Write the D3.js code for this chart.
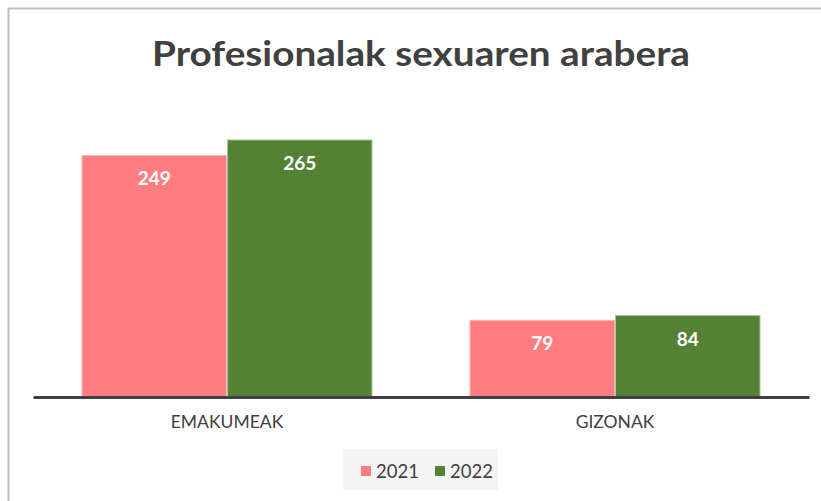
<!DOCTYPE html>
<html><head><meta charset="utf-8">
<script src="https://cdn.jsdelivr.net/npm/d3@7"></script>
<style>html,body{margin:0;padding:0;background:#fff;}svg{display:block;}</style>
</head><body>
<script>
const categories = ["EMAKUMEAK", "GIZONAK"];
const seriesNames = ["2021", "2022"];
const values2021 = [249, 79];
const values2022 = [265, 84];
const colors = ["#FF7C80", "#548235"];
const strokeColors = ["#FFB3B5", "#A9C79A"];
const titleText = "Profesionalak sexuaren arabera";

const W = 821, H = 501;
const font = "Lato, 'Open Sans', sans-serif";
const svg = d3.select("body").append("svg").attr("width", W).attr("height", H);

svg.append("rect").attr("width", W).attr("height", H).attr("fill", "#fff");
// chart frame (cropped on right/bottom)
svg.append("path").attr("d", `M8.5,${H+2} V8.5 H${W+2}`).attr("fill", "none").attr("stroke", "#bfbfbf").attr("stroke-width", 2);

svg.append("text").attr("x", 421).attr("y", 66).attr("text-anchor", "middle")
  .attr("font-family", font).attr("font-weight", "bold").attr("font-size", 35)
  .attr("fill", "#404040").attr("textLength", 538).attr("lengthAdjust", "spacingAndGlyphs")
  .text(titleText);

const x0 = d3.scaleBand().domain(categories).range([33, 809]).paddingInner(0.25).paddingOuter(0.125);
const x1 = d3.scaleBand().domain(seriesNames).range([0, x0.bandwidth()]);
const y = d3.scaleLinear().domain([0, 300]).range([397, 106]);

const data = categories.map((c, i) => ({cat: c, vals: [values2021[i], values2022[i]]}));

const g = svg.append("g");
data.forEach(d => {
  d.vals.forEach((v, j) => {
    const bx = x0(d.cat) + x1(seriesNames[j]);
    g.append("rect").attr("x", bx + 0.5).attr("y", y(v)).attr("width", x1.bandwidth() - 1)
      .attr("height", y(0) - y(v)).attr("fill", colors[j]).attr("stroke", strokeColors[j]).attr("stroke-width", 1);
    g.append("text").attr("x", bx + x1.bandwidth() / 2).attr("y", y(v) + 30)
      .attr("text-anchor", "middle").attr("font-family", font).attr("font-weight", "bold")
      .attr("font-size", 19).attr("fill", "#fff").text(v);
  });
});

// axis
const xAxis = d3.axisBottom(x0).tickSize(0).tickPadding(19);
const ax = svg.append("g").attr("transform", `translate(0,${y(0)})`).call(xAxis);
ax.select(".domain").attr("stroke", "#404040").attr("stroke-width", 3);
ax.selectAll("text").attr("font-family", font).attr("font-size", 17.5).attr("fill", "#404040");

// legend
const lg = svg.append("g");
lg.append("rect").attr("x", 343).attr("y", 449).attr("width", 155).attr("height", 41).attr("fill", "#f5f5f5");
const legendX = [361, 435];
seriesNames.forEach((s, j) => {
  lg.append("rect").attr("x", legendX[j]).attr("y", 466).attr("width", 10).attr("height", 10).attr("fill", colors[j]);
  lg.append("text").attr("x", legendX[j] + 15).attr("y", 477.5).attr("font-family", font)
    .attr("font-size", 18.5).attr("fill", "#404040").text(s);
});
</script>
</body></html>
